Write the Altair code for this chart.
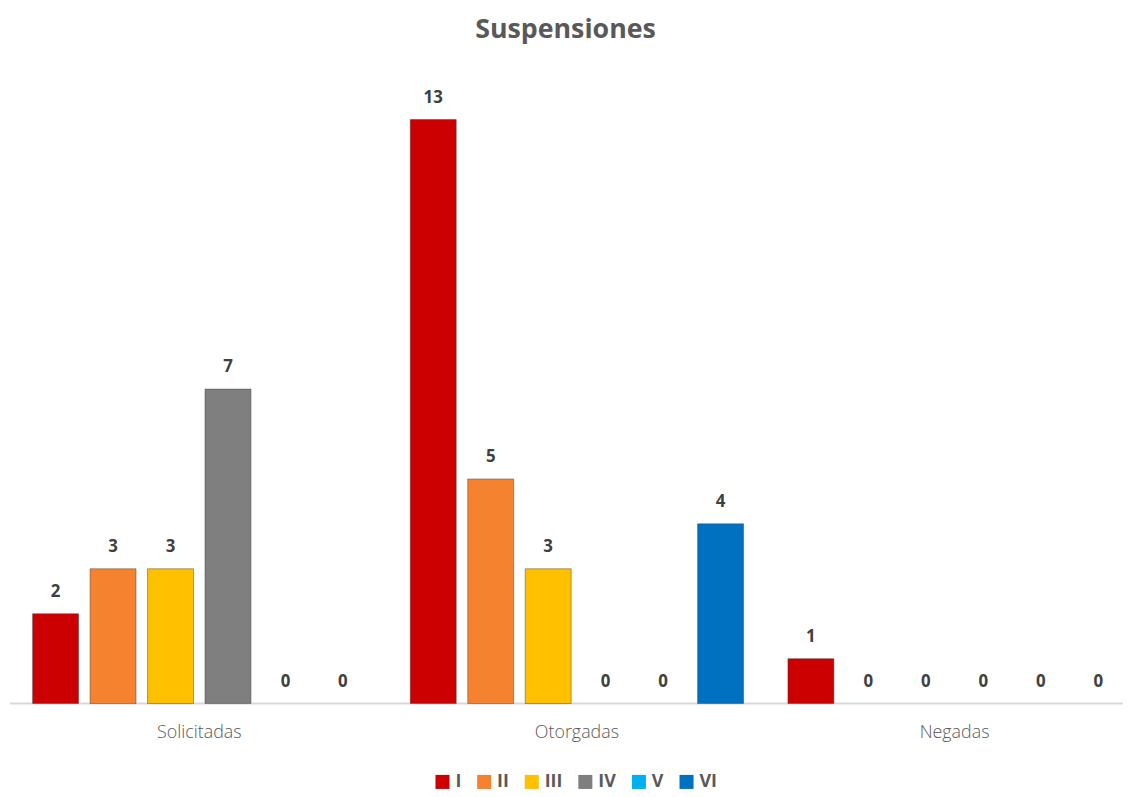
import altair as alt
import pandas as pd

categories = ["Solicitadas", "Otorgadas", "Negadas"]
series = ["I", "II", "III", "IV", "V", "VI"]
values = {
    "Solicitadas": [2, 3, 3, 7, 0, 0],
    "Otorgadas": [13, 5, 3, 0, 0, 4],
    "Negadas": [1, 0, 0, 0, 0, 0],
}
colors = ["#CC0000", "#F5822E", "#FFC000", "#7F7F7F", "#00B0F0", "#0070C0"]

rows = []
for c in categories:
    for s, v in zip(series, values[c]):
        rows.append({"cat": c, "serie": s, "val": v})
df = pd.DataFrame(rows)

W, H = 1124, 634

x = alt.X("cat:N", sort=categories, title=None,
          scale=alt.Scale(range=[19, 1128], paddingInner=0.087, paddingOuter=0),
          axis=alt.Axis(labelAngle=0, domain=False, ticks=False, labelPadding=20,
                        labelFontSize=18, labelColor="#595959", labelFont="Open Sans",
                        labelFontWeight=300))
xo = alt.XOffset("serie:N", sort=series,
                 scale=alt.Scale(paddingInner=0.2, paddingOuter=0.1))
y = alt.Y("val:Q", scale=alt.Scale(domain=[0, 14]), axis=None)

base = alt.Chart(df)

bars = base.mark_bar(stroke="#3a3a3a", strokeWidth=0.8).encode(
    x=x, xOffset=xo, y=y,
    strokeOpacity=alt.condition(alt.datum.val > 0, alt.value(0.55), alt.value(0)),
    color=alt.Color("serie:N", sort=series,
                    scale=alt.Scale(domain=series, range=colors),
                    legend=alt.Legend(title=None, orient="none", direction="horizontal",
                                      legendX=429, legendY=704,
                                      symbolType="square", symbolSize=200,
                                      symbolStrokeWidth=0,
                                      labelFontSize=18, labelFontWeight="bold",
                                      labelColor="#595959", labelFont="Open Sans",
                                      columnPadding=14, labelOffset=4)),
)

labels = base.mark_text(baseline="bottom", dy=-13, fontSize=17, fontWeight="bold",
                        color="#404040", font="Open Sans").encode(
    x=x, xOffset=xo, y=y, text="val:Q"
)

axis_line = alt.Chart(pd.DataFrame({"v": [0]})).mark_rule(color="#D9D9D9", strokeWidth=2).encode(
    y=alt.Y("v:Q", scale=alt.Scale(domain=[0, 14]), axis=None),
    x=alt.value(2), x2=alt.value(W)
)

chart = alt.layer(axis_line, bars, labels).properties(
    width=W, height=H,
    padding={"left": 0, "right": 0, "top": 5, "bottom": 0},
    title=alt.TitleParams("Suspensiones", fontSize=27, fontWeight="bold", color="#595959",
                          font="Open Sans", anchor="middle", offset=31),
).configure_view(stroke=None)

chart.save("out.html", embed_options={"renderer": "svg", "actions": False})
